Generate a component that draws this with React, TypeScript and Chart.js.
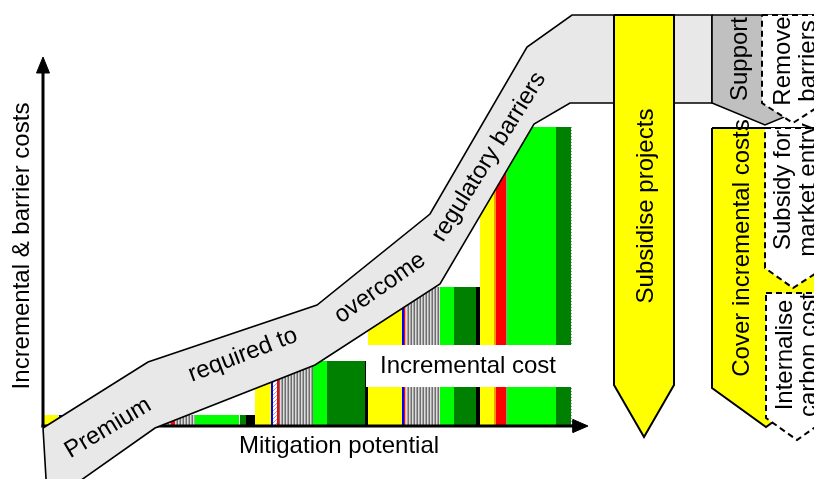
import React, { useEffect, useRef } from "react";
import { Chart, registerables } from "chart.js";

Chart.register(...registerables);

// Units: x = mitigation potential (0 at the origin), y = incremental & barrier cost (0 at the x axis)

// ---- Marginal abatement cost segments ----
const segStart = [0, 16, 19, 22, 128, 132, 152, 197, 203, 212, 228, 230, 234, 236, 270, 284, 322, 325, 359, 361, 362.5, 397, 411, 433, 437, 451, 453, 463, 464, 513];
const segWidth = [16, 3, 3, 106, 4, 20, 44, 6, 9, 16, 2, 4, 2, 34, 14, 38, 3, 34, 2, 1.5, 34.5, 14, 22, 4, 14, 2, 10, 1, 49, 15];
const segHeight = [10, 10, 10, 10, 10, 10, 10, 10, 10, 64, 64, 64, 64, 64, 64, 64, 64, 138, 138, 138, 138, 138, 138, 138, 298, 298, 298, 298, 298, 298];
const segKind = [
  "yellow", "blue", "orange", "stripes", "red", "stripes", "green", "dkgreen", "black",
  "yellow", "blue", "hatch", "red", "stripes", "green", "dkgreen", "black",
  "yellow", "blue", "red", "stripes", "green", "dkgreen", "black",
  "yellow", "orange", "red", "gray", "green", "dkgreen",
];

// ---- "Incremental cost" label box ----
const incBoxX = [323, 529];
const incBoxTop = 80;
const incBoxBottom = 38;

// ---- Premium band (upper edge then lower edge) ----
const bandX = [0, 105, 274, 387, 484, 529, 669, 669, 527, 491, 397, 272, 112, 17, 4];
const bandY = [-3, 63, 120, 211, 378, 410, 410, 322, 322, 301, 141, 60, -3, -70, -70];

// ---- Policy arrows ----
const subsidiseX = [571, 631, 631, 601, 571];
const subsidiseY = [410, 410, 40, -12, 40];
const supportX = [669, 775, 775, 722, 669];
const supportY = [410, 410, 322, 300, 322];
const coverX = [669, 777, 777, 723, 669];
const coverY = [297, 297, 37, -2, 37];
const removeX = [719, 781, 781, 750, 719];
const removeY = [410, 410, 322, 302, 322];
const subsidyX = [722, 781, 781, 750, 722];
const subsidyY = [297, 297, 157, 137, 157];
const internaliseX = [723, 785, 785, 754, 723];
const internaliseY = [132, 132, 7, -15, 7];

// ---- Axes ----
const yAxisX = [0, 0];
const yAxisY = [-2.5, 356];
const yArrowX = [0, -6.5, 6.5];
const yArrowY = [368, 352, 352];
const xAxisX = [-1.5, 532];
const xAxisY = [-1, -1];
const xArrowX = [545, 530, 530];
const xArrowY = [-1, 5.5, -7.5];

// ---- Text labels ----
const labelText = [
  "Premium", "required to", "overcome", "regulatory barriers",
  "Incremental cost", "Mitigation potential", "Incremental & barrier costs",
  "Subsidise projects", "Cover incremental costs", "Support",
  "Remove", "barriers", "Subsidy for", "market entry", "Internalise", "carbon cost",
];
const labelX = [65, 200, 337, 446, 425, 296, -21, 603, 699, 697, 740, 765, 740, 765, 742, 766];
const labelY = [-3, 70, 137, 268, 59, -21, 179, 219, 177, 366, 364, 364, 235, 235, 70, 70];
const labelAngle = [-31, -21, -35, -58, 0, 0, -90, -90, -90, -90, -90, -90, -90, -90, -90, -90];

const COLORS: Record<string, string> = {
  yellow: "#ffff00",
  blue: "#0000ff",
  orange: "#ff9900",
  red: "#ff0000",
  green: "#00ff00",
  dkgreen: "#008000",
  black: "#000000",
  gray: "#999999",
};

function makeStripes(ctx: CanvasRenderingContext2D) {
  const c = document.createElement("canvas");
  c.width = 3;
  c.height = 1;
  const g = c.getContext("2d")!;
  g.fillStyle = "#dcdcdc";
  g.fillRect(0, 0, 3, 1);
  g.fillStyle = "#6e6e6e";
  g.fillRect(0, 0, 1, 1);
  g.fillStyle = "#a6a6a6";
  g.fillRect(2, 0, 1, 1);
  return ctx.createPattern(c, "repeat");
}

function makeHatch(ctx: CanvasRenderingContext2D) {
  const c = document.createElement("canvas");
  c.width = 4;
  c.height = 4;
  const g = c.getContext("2d")!;
  g.fillStyle = "#ffffff";
  g.fillRect(0, 0, 4, 4);
  g.fillStyle = "#9aa2d8";
  for (let i = 0; i < 4; i++) g.fillRect(i, 3 - i, 1, 1);
  return ctx.createPattern(c, "repeat");
}

const pts = (xs: number[], ys: number[]) => xs.map((x, i) => ({ x, y: ys[i] }));

function poly(xs: number[], ys: number[], bg: any, stroke: string, width: number, dash: number[] = []) {
  const p = pts(xs, ys);
  p.push({ x: xs[0], y: ys[0] });
  return {
    type: "line",
    data: p,
    backgroundColor: bg,
    borderColor: stroke,
    borderWidth: width,
    borderDash: dash,
    fill: "shape",
    pointRadius: 0,
    clip: false,
    tension: 0,
    borderJoinStyle: "miter",
  };
}

function line(xs: number[], ys: number[], stroke: string, width: number, dash: number[] = []) {
  return {
    type: "line",
    data: pts(xs, ys),
    borderColor: stroke,
    borderWidth: width,
    borderDash: dash,
    fill: false,
    pointRadius: 0,
    clip: false,
    tension: 0,
    borderCapStyle: "butt",
  };
}

const labelPlugin = {
  id: "labels",
  afterDatasetsDraw(chart: any) {
    const { ctx } = chart;
    const xs = chart.scales.x;
    const ys = chart.scales.y;
    labelText.forEach((t, i) => {
      ctx.save();
      ctx.translate(xs.getPixelForValue(labelX[i]), ys.getPixelForValue(labelY[i]));
      ctx.rotate((labelAngle[i] * Math.PI) / 180);
      ctx.font = '24px "Liberation Sans", Arial, sans-serif';
      ctx.fillStyle = "#000000";
      ctx.textAlign = "center";
      ctx.textBaseline = "middle";
      ctx.fillText(t, 0, 0);
      ctx.restore();
    });
  },
};

export default function App() {
  const ref = useRef<HTMLCanvasElement>(null);

  useEffect(() => {
    const canvas = ref.current!;
    const ctx = canvas.getContext("2d")!;
    const stripes = makeStripes(ctx);
    const hatch = makeHatch(ctx);
    const fillFor = (k: string) => (k === "stripes" ? stripes : k === "hatch" ? hatch : COLORS[k]);

    const layers: any[] = [];
    segStart.forEach((s, i) => {
      layers.push({
        type: "line",
        data: [
          { x: s, y: segHeight[i] },
          { x: s + segWidth[i], y: segHeight[i] },
        ],
        backgroundColor: fillFor(segKind[i]),
        borderColor: "rgba(0,0,0,0)",
        borderWidth: 0,
        fill: "origin",
        pointRadius: 0,
      });
    });
    layers.push(line([528.5, 528.5], [0, 298], "#9a9a9a", 1, [1, 2]));
    layers.push(line(yAxisX, yAxisY, "#000000", 3));
    layers.push(poly(yArrowX, yArrowY, "#000000", "#000000", 1));
    layers.push(line(xAxisX, xAxisY, "#000000", 3));
    layers.push(poly(xArrowX, xArrowY, "#000000", "#000000", 1));
    layers.push(poly(bandX, bandY, "#e8e8e8", "#000000", 1.6));
    layers.push({
      type: "line",
      data: pts(incBoxX, [incBoxTop, incBoxTop]),
      backgroundColor: "#ffffff",
      borderColor: "rgba(0,0,0,0)",
      borderWidth: 0,
      fill: { value: incBoxBottom },
      pointRadius: 0,
    });
    layers.push(poly(subsidiseX, subsidiseY, "#ffff00", "#000000", 2));
    layers.push(poly(supportX, supportY, "#c0c0c0", "#000000", 1.6));
    layers.push(poly(coverX, coverY, "#ffff00", "#000000", 2));
    layers.push(poly(removeX, removeY, "#ffffff", "#000000", 2, [6, 4]));
    layers.push(poly(subsidyX, subsidyY, "#ffffff", "#000000", 2, [6, 4]));
    layers.push(poly(internaliseX, internaliseY, "#ffffff", "#000000", 2, [6, 4]));

    const n = layers.length;
    layers.forEach((d, i) => (d.order = n - i));

    const chart = new Chart(canvas, {
      type: "line",
      data: { datasets: layers },
      options: {
        animation: false,
        responsive: false,
        events: [],
        layout: { padding: 0 },
        plugins: {
          legend: { display: false },
          tooltip: { enabled: false },
        },
        scales: {
          x: { type: "linear", min: -43, max: 771, display: false },
          y: { type: "linear", min: -54, max: 425, display: false },
        },
      },
      plugins: [labelPlugin],
    } as any);

    return () => chart.destroy();
  }, []);

  return (
    <div style={{ position: "fixed", left: 0, top: 0, width: 814, height: 479, background: "#ffffff" }}>
      <canvas ref={ref} width={814} height={479} style={{ display: "block", width: 814, height: 479 }} />
    </div>
  );
}
